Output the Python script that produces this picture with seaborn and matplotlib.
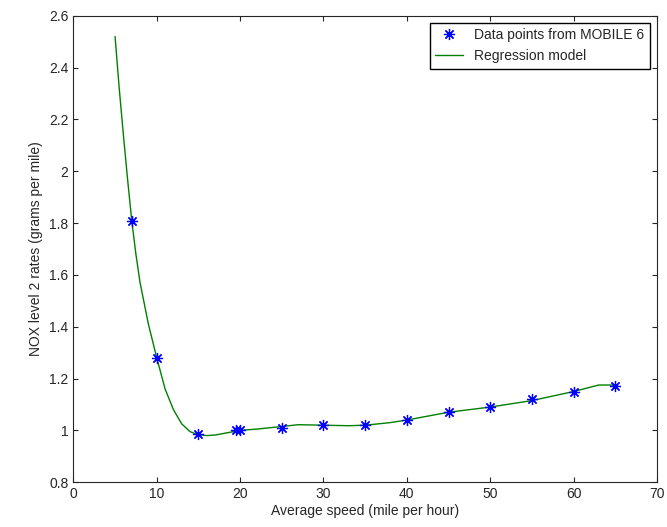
import matplotlib
matplotlib.use("Agg")
import matplotlib.pyplot as plt
import seaborn as sns

# data points from MOBILE 6
speed_pts = [7, 10, 15, 19.5, 20, 25, 30, 35, 40, 45, 50, 55, 60, 65]
nox_pts = [1.81, 1.28, 0.985, 1.0, 1.0, 1.01, 1.02, 1.02, 1.04, 1.07, 1.09, 1.12, 1.15, 1.17]

# regression curve
speed_fit = [5, 5.5, 6, 6.5, 7, 7.5, 8, 9, 10, 11, 12, 13, 14, 15, 16, 17, 18, 20, 22, 25,
             27, 30, 33, 35, 38, 40, 45, 50, 55, 60, 63, 65]
nox_fit = [2.52, 2.32, 2.14, 1.97, 1.81, 1.68, 1.57, 1.41, 1.28, 1.16, 1.08, 1.025, 0.995,
           0.983, 0.98, 0.982, 0.988, 1.0, 1.005, 1.015, 1.022, 1.02, 1.018, 1.02, 1.03,
           1.04, 1.07, 1.09, 1.115, 1.15, 1.175, 1.175]

sns.set_style("ticks")
plt.rcParams['font.family'] = ['Liberation Sans', 'DejaVu Sans']

fig = plt.figure(figsize=(6.67, 5.27), dpi=100)
ax = fig.add_axes([0.11, 0.085, 0.875, 0.885])

sns.lineplot(x=speed_fit, y=nox_fit, color=(0, 0.5, 0), lw=1, ax=ax,
             label='Regression model', sort=False)
ax.plot(speed_pts, nox_pts, linestyle='none', marker=(8, 2, 0), color='blue',
        markersize=8, markeredgewidth=0.9, label='Data points from MOBILE 6')

ax.set_xlim(0, 70)
ax.set_ylim(0.8, 2.6)
ax.set_xticks(range(0, 71, 10))
ax.set_yticks([0.8, 1, 1.2, 1.4, 1.6, 1.8, 2, 2.2, 2.4, 2.6])
ax.set_yticklabels(['0.8', '1', '1.2', '1.4', '1.6', '1.8', '2', '2.2', '2.4', '2.6'])
ax.tick_params(direction='in', labelsize=10, top=True, right=True)
for s in ax.spines.values():
    s.set_linewidth(0.8)
ax.set_xlabel('Average speed (mile per hour)', fontsize=10, labelpad=2)
ax.set_ylabel('NOX level 2 rates (grams per mile)', fontsize=10)

h, l = ax.get_legend_handles_labels()
ax.legend(h[::-1], l[::-1], loc='upper right', fancybox=False, edgecolor='black',
          framealpha=1, fontsize=10)

fig.savefig('out.png', dpi=100)
